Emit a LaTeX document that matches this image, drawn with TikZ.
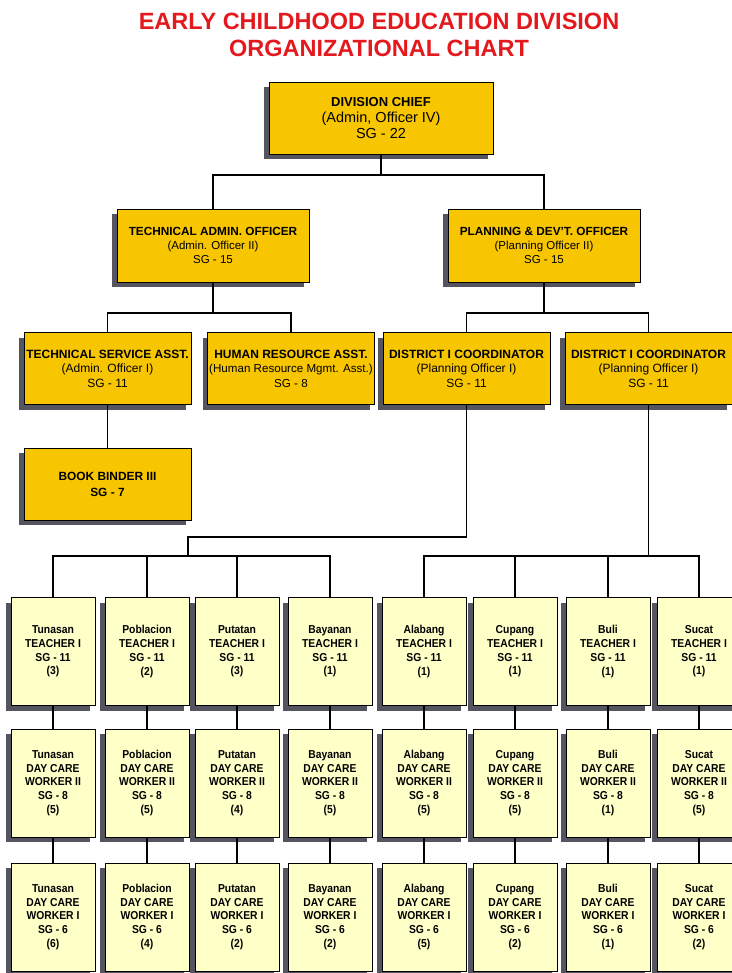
\documentclass[tikz,border=0pt]{standalone}
\usepackage{fontspec}
\setmainfont{Liberation Sans}
\newfontfamily\narrowfont[FakeStretch=0.9]{Liberation Sans}
\usepackage{tikz}
\usetikzlibrary{shadows}
\definecolor{titlered}{HTML}{E3191E}
\definecolor{officeyellow}{HTML}{F7C600}
\definecolor{staffyellow}{HTML}{FFFFC8}
\definecolor{shadowgray}{HTML}{55555F}

\tikzset{
  link/.style={line width=1.4pt},
  officebox/.style={draw=black, line width=0.9pt, fill=officeyellow, align=center,
    font=\fontsize{12}{14.5}\selectfont, inner sep=1pt,
    drop shadow={shadow xshift=-5pt, shadow yshift=-5pt, fill=shadowgray, opacity=1}},
  staffbox/.style={draw=black, line width=0.9pt, fill=staffyellow, align=center,
    font=\fontsize{11.5}{13.7}\narrowfont\bfseries, inner sep=1pt,
    minimum width=84pt, minimum height=108pt,
    drop shadow={shadow xshift=-5pt, shadow yshift=-5pt, fill=shadowgray, opacity=1}}
}

\begin{document}
\begin{tikzpicture}[x=1pt,y=-1pt]
        \useasboundingbox[fill=white] (0,0) rectangle (731,973);

        % title
        \node[text=titlered, align=center, font=\fontsize{23.5}{26.5}\selectfont\bfseries] (title) at (379,35)
            {EARLY CHILDHOOD EDUCATION DIVISION\\ORGANIZATIONAL CHART};

        % offices
        \node[officebox, minimum width=224pt, minimum height=72pt, font=\fontsize{14.5}{16}\selectfont] (chief) at (381,118)
            {{\fontsize{13}{16}\selectfont\bfseries DIVISION CHIEF}\\(Admin, Officer IV)\\SG - 22};
        \node[officebox, minimum width=192pt, minimum height=73pt, font=\fontsize{11.5}{14}\selectfont] (techadmin) at (213,245.5)
            {{\fontsize{11.8}{14}\selectfont\bfseries TECHNICAL ADMIN. OFFICER}\\(Admin. Officer II)\\SG - 15};
        \node[officebox, minimum width=192pt, minimum height=73pt, font=\fontsize{11.5}{14}\selectfont] (planning) at (544,245.5)
            {{\fontsize{11.8}{14}\selectfont\bfseries PLANNING \& DEV'T. OFFICER}\\(Planning Officer II)\\SG - 15};

        \node[officebox, minimum width=167pt, minimum height=72pt] (techserv) at (107.5,368.5)
            {{\bfseries TECHNICAL SERVICE ASST.}\\(Admin. Officer I)\\SG - 11};
        \node[officebox, minimum width=167pt, minimum height=72pt, font=\fontsize{11.6}{14.5}\selectfont] (hrasst) at (291,368.5)
            {{\fontsize{12}{14.5}\selectfont\bfseries HUMAN RESOURCE ASST.}\\(Human Resource Mgmt. Asst.)\\SG - 8};
        \node[officebox, minimum width=167pt, minimum height=72pt] (distA) at (466.5,368.5)
            {{\bfseries DISTRICT I COORDINATOR}\\(Planning Officer I)\\SG - 11};
        \node[officebox, minimum width=167pt, minimum height=72pt] (distB) at (648.5,368.5)
            {{\bfseries DISTRICT I COORDINATOR}\\(Planning Officer I)\\SG - 11};

        \node[officebox, minimum width=167pt, minimum height=72pt, font=\fontsize{11.9}{16}\selectfont\bfseries] (binder) at (107.5,484)
            {BOOK BINDER III\\SG - 7};

        % teachers
        \node[staffbox] (teach1) at (53,651.5) {Tunasan\\TEACHER I\\SG - 11\\(3)};
        \node[staffbox] (teach2) at (147,651.5) {Poblacion\\TEACHER I\\SG - 11\\(2)};
        \node[staffbox] (teach3) at (237,651.5) {Putatan\\TEACHER I\\SG - 11\\(3)};
        \node[staffbox] (teach4) at (330,651.5) {Bayanan\\TEACHER I\\SG - 11\\(1)};
        \node[staffbox] (teach5) at (424,651.5) {Alabang\\TEACHER I\\SG - 11\\(1)};
        \node[staffbox] (teach6) at (515,651.5) {Cupang\\TEACHER I\\SG - 11\\(1)};
        \node[staffbox] (teach7) at (608,651.5) {Buli\\TEACHER I\\SG - 11\\(1)};
        \node[staffbox] (teach8) at (699,651.5) {Sucat\\TEACHER I\\SG - 11\\(1)};

        % day care worker II
        \node[staffbox] (dcwII1) at (53,783) {Tunasan\\DAY CARE\\WORKER II\\SG - 8\\(5)};
        \node[staffbox] (dcwII2) at (147,783) {Poblacion\\DAY CARE\\WORKER II\\SG - 8\\(5)};
        \node[staffbox] (dcwII3) at (237,783) {Putatan\\DAY CARE\\WORKER II\\SG - 8\\(4)};
        \node[staffbox] (dcwII4) at (330,783) {Bayanan\\DAY CARE\\WORKER II\\SG - 8\\(5)};
        \node[staffbox] (dcwII5) at (424,783) {Alabang\\DAY CARE\\WORKER II\\SG - 8\\(5)};
        \node[staffbox] (dcwII6) at (515,783) {Cupang\\DAY CARE\\WORKER II\\SG - 8\\(5)};
        \node[staffbox] (dcwII7) at (608,783) {Buli\\DAY CARE\\WORKER II\\SG - 8\\(1)};
        \node[staffbox] (dcwII8) at (699,783) {Sucat\\DAY CARE\\WORKER II\\SG - 8\\(5)};

        % day care worker I
        \node[staffbox] (dcwI1) at (53,917) {Tunasan\\DAY CARE\\WORKER I\\SG - 6\\(6)};
        \node[staffbox] (dcwI2) at (147,917) {Poblacion\\DAY CARE\\WORKER I\\SG - 6\\(4)};
        \node[staffbox] (dcwI3) at (237,917) {Putatan\\DAY CARE\\WORKER I\\SG - 6\\(2)};
        \node[staffbox] (dcwI4) at (330,917) {Bayanan\\DAY CARE\\WORKER I\\SG - 6\\(2)};
        \node[staffbox] (dcwI5) at (424,917) {Alabang\\DAY CARE\\WORKER I\\SG - 6\\(5)};
        \node[staffbox] (dcwI6) at (515,917) {Cupang\\DAY CARE\\WORKER I\\SG - 6\\(2)};
        \node[staffbox] (dcwI7) at (608,917) {Buli\\DAY CARE\\WORKER I\\SG - 6\\(1)};
        \node[staffbox] (dcwI8) at (699,917) {Sucat\\DAY CARE\\WORKER I\\SG - 6\\(2)};

        % junctions
        \coordinate (hubTop) at (381,175);
        \coordinate (hubTech) at (213,313);
        \coordinate (hubPlan) at (544,313);
        \coordinate (bendA) at (188,537);
        \coordinate (busA) at (188,556);
        \coordinate (busB) at (648.5,556);

        % lines
        \draw[link] (chief) -- (hubTop);
        \draw[link] (techadmin) |- (hubTop) -| (planning);
        \draw[link] (techadmin) -- (hubTech);
        \draw[link] (techserv) |- (hubTech) -| (hrasst);
        \draw[link] (planning) -- (hubPlan);
        \draw[link] (distA) |- (hubPlan) -| (distB);
        \draw[link] (techserv) -- (binder);

        \draw[link] (distA) |- (bendA) -- (busA);
        \draw[link] (teach1) |- (busA) -| (teach4);
        \draw[link] (teach2) -- (teach2 |- busA);
        \draw[link] (teach3) -- (teach3 |- busA);
        \draw[link] (distB) -- (busB);
        \draw[link] (teach5) |- (busB) -| (teach8);
        \draw[link] (teach6) -- (teach6 |- busB);
        \draw[link] (teach7) -- (teach7 |- busB);

        \draw[link] (teach1) -- (dcwII1);
        \draw[link] (teach2) -- (dcwII2);
        \draw[link] (teach3) -- (dcwII3);
        \draw[link] (teach4) -- (dcwII4);
        \draw[link] (teach5) -- (dcwII5);
        \draw[link] (teach6) -- (dcwII6);
        \draw[link] (teach7) -- (dcwII7);
        \draw[link] (teach8) -- (dcwII8);

        \draw[link] (dcwII1) -- (dcwI1);
        \draw[link] (dcwII2) -- (dcwI2);
        \draw[link] (dcwII3) -- (dcwI3);
        \draw[link] (dcwII4) -- (dcwI4);
        \draw[link] (dcwII5) -- (dcwI5);
        \draw[link] (dcwII6) -- (dcwI6);
        \draw[link] (dcwII7) -- (dcwI7);
        \draw[link] (dcwII8) -- (dcwI8);
\end{tikzpicture}
\end{document}
